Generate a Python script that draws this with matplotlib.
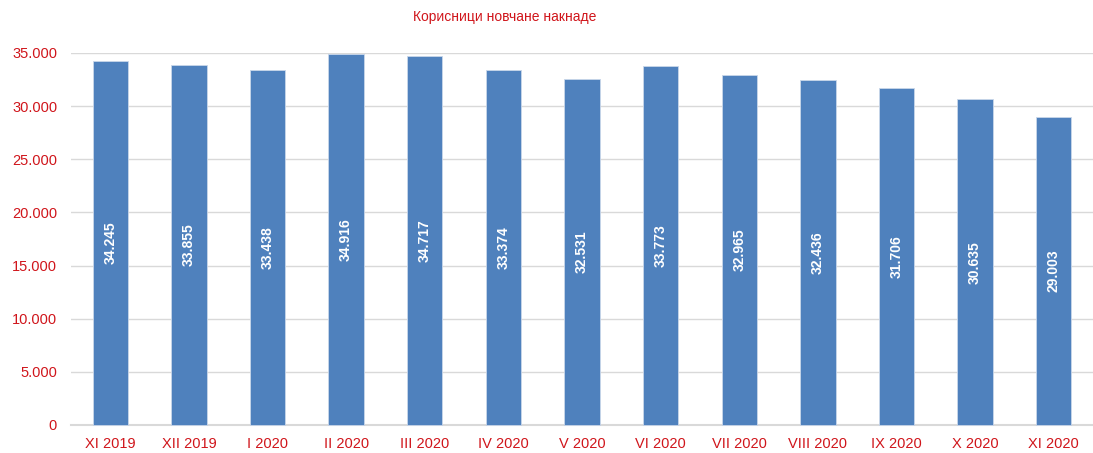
import matplotlib
matplotlib.use("Agg")
from matplotlib import pyplot as plt
from matplotlib.ticker import FuncFormatter

months = ["XI 2019", "XII 2019", "I 2020", "II 2020", "III 2020", "IV 2020", "V 2020",
          "VI 2020", "VII 2020", "VIII 2020", "IX 2020", "X 2020", "XI 2020"]
users = [34245, 33855, 33438, 34916, 34717, 33374, 32531,
         33773, 32965, 32436, 31706, 30635, 29003]
title = "Корисници новчане накнаде"

red = "#D0151B"
plt.rcParams['font.family'] = ['Liberation Sans', 'DejaVu Sans']

fig = plt.figure(figsize=(10.93, 4.53), dpi=100)
ax = fig.add_axes([71 / 1093, 1 - 425 / 453, 1 - 71 / 1093, (425 - 53) / 453])

x = range(len(months))
bars = ax.bar(x, users, width=0.45, color="#4F81BD", edgecolor="#C9D7EA", linewidth=0.6, zorder=3)

def dots(v, pos=None):
    return f"{int(v):,}".replace(",", ".")

ax.bar_label(bars, labels=[dots(v) for v in users], label_type="center", rotation=90,
             color="white", fontweight="bold", fontsize=10)

ax.set_xlim(-0.5, len(months) - 0.5)
ax.set_ylim(0, 35000)
ax.set_yticks(range(0, 35001, 5000))
ax.yaxis.set_major_formatter(FuncFormatter(dots))
ax.set_xticks(list(x))
ax.set_xticklabels(months)
ax.tick_params(axis="both", length=0, labelcolor=red, labelsize=10.5)
ax.tick_params(axis="y", pad=10)
ax.tick_params(axis="x", pad=9)
ax.grid(axis="y", color="#D9D9D9", linewidth=1, zorder=0)
for s in ["top", "right", "left"]:
    ax.spines[s].set_visible(False)
ax.spines["bottom"].set_color("#D9D9D9")
ax.spines["bottom"].set_linewidth(1.5)
for b in bars:
    b.set_clip_on(False)

fig.text(505 / 1093, 1 - 17 / 453, title, color=red, fontsize=10, ha="center", va="center")

fig.savefig("out.png", dpi=100)
